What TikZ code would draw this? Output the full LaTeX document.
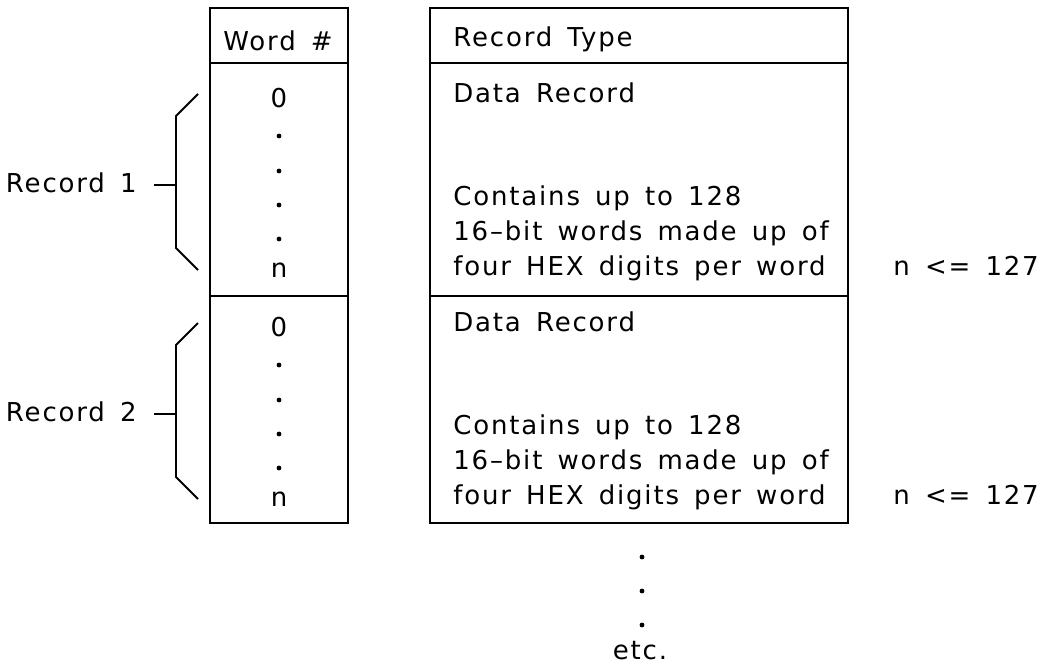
\documentclass[tikz,border=0pt]{standalone}
\usepackage{fontspec}
\setmainfont{DejaVu Sans}[LetterSpace=7,WordSpace=1.5]
\usepackage{tikz}
\usetikzlibrary{positioning,calc}

\begin{document}
\begin{tikzpicture}[
    x=0.5pt, y=-0.5pt,
    cell/.style={draw, line width=1.1pt, minimum width=#1, inner sep=0pt},
    cell/.default=69pt,
    txt/.style={font=\fontsize{13}{15}\selectfont, inner sep=0pt},
    ltxt/.style={txt, anchor=mid west},
    brace/.style={line width=0.9pt},
    dot/.style={circle, fill=black, inner sep=0pt, minimum size=2.4pt}
]
\useasboundingbox (0,0) rectangle (1047,664);

\node[cell, minimum height=27.5pt] (wordhd) at (279,35.5) {};
\node[cell, minimum height=116.5pt] (word1) at (279,179.5) {};
\node[cell, minimum height=113.5pt] (word2) at (279,409.5) {};
\node[cell=209pt, minimum height=27.5pt] (typehd) at (639,35.5) {};
\node[cell=209pt, minimum height=116.5pt] (type1) at (639,179.5) {};
\node[cell=209pt, minimum height=113.5pt] (type2) at (639,409.5) {};

\node[txt] (wordlbl) at (279,41) {Word \textit{\#}};
\node[ltxt] (typelbl) at (453,41) {Record Type};

\foreach \r/\dy in {1/0, 2/229} {
    \node[txt] (zero\r) at (279,98+\dy) {0};
    \node[txt] (last\r) at (279,270+\dy) {n};
    \foreach \y in {136,171,205,239}
        \node[dot] at (279,\y+\dy) {};
    \node[ltxt] (data\r) at (453,97+\dy) {Data Record};
    \node[ltxt] (cont\r) at (453,200+\dy) {Contains up to 128};
    \node[ltxt] (bits\r) at (453,235+\dy) {16--bit words made up of};
    \node[ltxt] (four\r) at (453,270+\dy) {four HEX digits per word};
    \node[ltxt] (lim\r) at (893,270+\dy) {n <= 127};
    \node[txt, anchor=mid east] (rec\r) at (137,187+\dy) {Record \r};
    \coordinate (bt\r) at (198,94+\dy);
    \coordinate (bb\r) at (198,270+\dy);
    \coordinate (tick\r) at (176,185+\dy);
    \coordinate (tk\r) at (154,185+\dy);
    \draw[brace] (bt\r) -- ++(-22,22) |- (tick\r) |- ++(0,63) -- (bb\r);
    \draw[brace] (tk\r) -- (tick\r);
}

\foreach \y in {557,591,625}
    \node[dot] at (642,\y) {};
\node[txt] (etc) at (640,651) {etc.};
\end{tikzpicture}
\end{document}
